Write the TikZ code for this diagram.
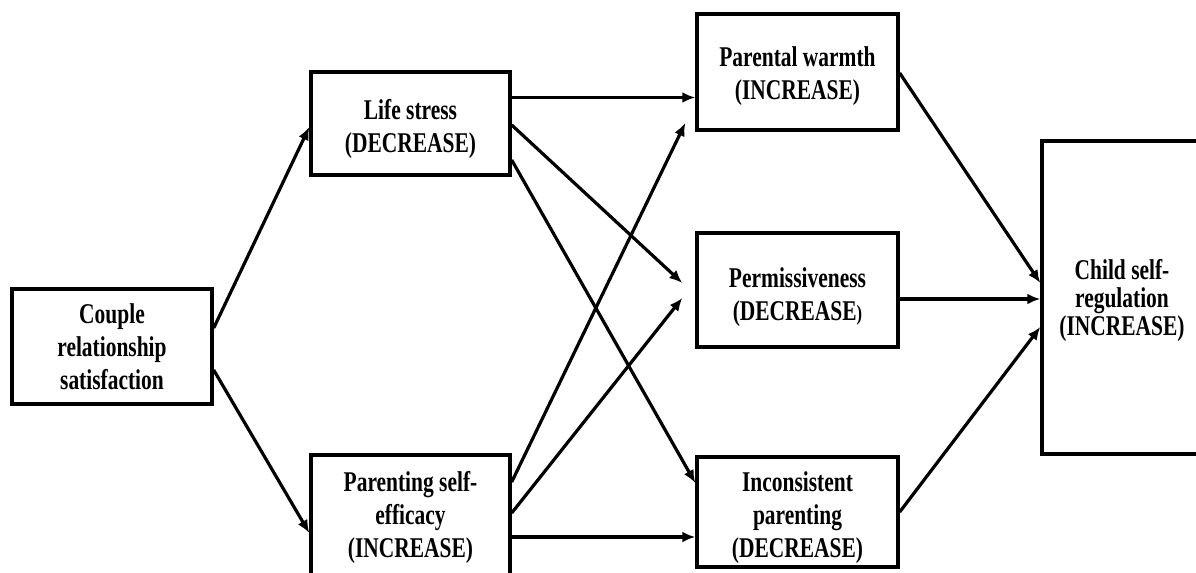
\documentclass[tikz,border=0pt]{standalone}
\usepackage{fontspec}
\newfontfamily\lblfont{Liberation Serif}[FakeStretch=0.75]
\usetikzlibrary{arrows.meta,calc}
% taller first line pushes a label down inside its box
\newcommand\firstline[1]{\rule{0pt}{#1}}
\begin{document}
\begin{tikzpicture}[x=0.5pt,y=-0.5pt,
  box/.style={draw=black,line width=1.7pt,rectangle,inner sep=0pt,align=center,
    font=\lblfont\bfseries\fontsize{14.3pt}{16.5pt}\selectfont},
  link/.style={line width=1.6pt,-{Latex[length=6.5pt,width=5.5pt]}}]
\useasboundingbox (0,0) rectangle (1196,573);

% boxes
\node[box,minimum width=100pt,minimum height=57.5pt] (couple) at (112,346.5)
  {Couple\\relationship\\satisfaction};
\node[box,minimum width=99.5pt,minimum height=51.5pt] (life) at (410.5,123.5)
  {\firstline{16pt}Life stress\\(DECREASE)};
\node[box,minimum width=99.5pt,minimum height=62.5pt] (pse) at (410.5,517.5)
  {Parenting self-\\efficacy\\(INCREASE)};
\node[box,minimum width=100.5pt,minimum height=58pt] (warmth) at (797.5,72)
  {\firstline{14pt}Parental warmth\\(INCREASE)};
\node[box,minimum width=100.5pt,minimum height=57pt] (perm) at (797.5,290)
  {\firstline{17.5pt}Permissiveness\\(DECREASE{\fontsize{11pt}{12pt}\selectfont)}};
\node[box,minimum width=100.5pt,minimum height=55pt] (incons) at (797.5,512)
  {\firstline{16pt}Inconsistent\\parenting\\(DECREASE)};
\node[box,minimum width=80pt,minimum height=156.5pt,
  font=\lblfont\bfseries\fontsize{14.3pt}{13.8pt}\selectfont] (child) at (1122,297.5)
  {\firstline{13pt}Child self-\\regulation\\(INCREASE)};

% paths from couple satisfaction
\draw[link] ([yshift=9.25pt]couple.east) -- ([yshift=-1.75pt]life.west);
\draw[link] ([yshift=-11.75pt]couple.east) -- ([yshift=-7.75pt]pse.west);

% paths from life stress
\draw[link] ([yshift=13pt]life.east) -- ([yshift=-12.75pt]warmth.west);
\draw[link] ([yshift=-0.75pt]life.east) -- ([xshift=-6.5pt,yshift=3.5pt]perm.west);
\draw[link] ([yshift=-18.25pt]life.east) -- ([yshift=14.5pt]incons.west);

% paths from parenting self-efficacy
\draw[link] ([yshift=17.75pt]pse.east) -- ([xshift=-5pt,yshift=-25.5pt]warmth.west);
\draw[link] ([yshift=2.25pt]pse.east) -- ([xshift=-6.5pt,yshift=-4pt]perm.west);
\draw[link] ([yshift=-9.75pt]pse.east) -- ([yshift=-12.5pt]incons.west);

% paths to child self-regulation
\draw[link] ([yshift=-0.5pt]warmth.east) -- ([yshift=7.25pt]child.west);
\draw[link] ([yshift=-4.5pt]perm.east) -- ([yshift=-0.75pt]child.west);
\draw[link] (incons.east) -- ([yshift=-14.75pt]child.west);
\end{tikzpicture}
\end{document}
